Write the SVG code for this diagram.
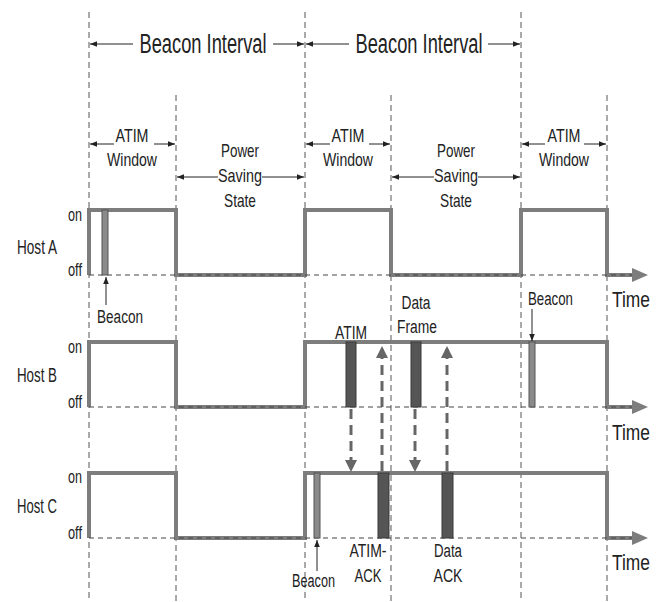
<svg xmlns="http://www.w3.org/2000/svg" width="660" height="602" viewBox="0 0 660 602">
<style>
text{font-family:"Liberation Sans",Arial,sans-serif;fill:#222}
.vd{stroke:#555;stroke-width:1;stroke-dasharray:6,4;fill:none}
.hd{stroke:#444;stroke-width:1;stroke-dasharray:5,4;fill:none}
.dim{stroke:#222;stroke-width:1;fill:none}
.sig{stroke:#7d7d7d;stroke-width:4;fill:none;stroke-linejoin:miter}
.thin{stroke:#222;stroke-width:1;fill:none}
.bcn{fill:#8a8a8a;stroke:#555;stroke-width:1}
.frm{fill:#555;stroke:#3a3a3a;stroke-width:1}
.da{stroke:#666;stroke-width:3;stroke-dasharray:10,6;fill:none}
.tri{fill:#7d7d7d}
.big{font-size:27px}
.mid{font-size:19px}
.hl{font-size:20px}
.oo{font-size:19px}
.sm{font-size:18px}
.tm{font-size:22px}
</style>
<defs>
<marker id="ah" viewBox="0 0 10 10" refX="10" refY="5" markerWidth="7" markerHeight="7" orient="auto-start-reverse" markerUnits="userSpaceOnUse"><path d="M0,1 L10,5 L0,9 z" fill="#222"/></marker>
<marker id="ad" viewBox="0 0 10 10" refX="10" refY="5" markerWidth="12" markerHeight="12" orient="auto" markerUnits="userSpaceOnUse"><path d="M0,0 L10,5 L0,10 z" fill="#666"/></marker>
</defs>

<g id="gridlines">
<line class="vd" x1="89" y1="12" x2="89" y2="602"/>
<line class="vd" x1="305" y1="12" x2="305" y2="602"/>
<line class="vd" x1="521" y1="12" x2="521" y2="602"/>
<line class="vd" x1="176" y1="95" x2="176" y2="602"/>
<line class="vd" x1="391" y1="95" x2="391" y2="602"/>
<line class="vd" x1="607" y1="95" x2="607" y2="602"/>
</g>

<g id="intervals">
<line class="dim" x1="133" y1="44" x2="90" y2="44" marker-end="url(#ah)"/>
<line class="dim" x1="273" y1="44" x2="304" y2="44" marker-end="url(#ah)"/>
<text class="big" x="203" y="53" text-anchor="middle" textLength="127" lengthAdjust="spacingAndGlyphs">Beacon Interval</text>
<line class="dim" x1="349" y1="44" x2="306" y2="44" marker-end="url(#ah)"/>
<line class="dim" x1="488" y1="44" x2="520" y2="44" marker-end="url(#ah)"/>
<text class="big" x="419" y="53" text-anchor="middle" textLength="127" lengthAdjust="spacingAndGlyphs">Beacon Interval</text>
</g>

<g id="windows">
<line class="dim" x1="114" y1="144" x2="90" y2="144" marker-end="url(#ah)"/>
<line class="dim" x1="154" y1="144" x2="175" y2="144" marker-end="url(#ah)"/>
<text class="mid" x="132" y="142" text-anchor="middle" textLength="33" lengthAdjust="spacingAndGlyphs">ATIM</text>
<text class="mid" x="132" y="166" text-anchor="middle" textLength="50" lengthAdjust="spacingAndGlyphs">Window</text>

<line class="dim" x1="330" y1="144" x2="306" y2="144" marker-end="url(#ah)"/>
<line class="dim" x1="369" y1="144" x2="390" y2="144" marker-end="url(#ah)"/>
<text class="mid" x="348" y="142" text-anchor="middle" textLength="33" lengthAdjust="spacingAndGlyphs">ATIM</text>
<text class="mid" x="348" y="166" text-anchor="middle" textLength="50" lengthAdjust="spacingAndGlyphs">Window</text>

<line class="dim" x1="545" y1="144" x2="522" y2="144" marker-end="url(#ah)"/>
<line class="dim" x1="584" y1="144" x2="606" y2="144" marker-end="url(#ah)"/>
<text class="mid" x="564" y="142" text-anchor="middle" textLength="33" lengthAdjust="spacingAndGlyphs">ATIM</text>
<text class="mid" x="564" y="166" text-anchor="middle" textLength="50" lengthAdjust="spacingAndGlyphs">Window</text>

<line class="dim" x1="218" y1="177" x2="177" y2="177" marker-end="url(#ah)"/>
<line class="dim" x1="262" y1="177" x2="304" y2="177" marker-end="url(#ah)"/>
<text class="mid" x="240" y="157" text-anchor="middle" textLength="38" lengthAdjust="spacingAndGlyphs">Power</text>
<text class="mid" x="240" y="182" text-anchor="middle" textLength="44" lengthAdjust="spacingAndGlyphs">Saving</text>
<text class="mid" x="240" y="207" text-anchor="middle" textLength="32" lengthAdjust="spacingAndGlyphs">State</text>

<line class="dim" x1="434" y1="177" x2="392" y2="177" marker-end="url(#ah)"/>
<line class="dim" x1="478" y1="177" x2="520" y2="177" marker-end="url(#ah)"/>
<text class="mid" x="456" y="157" text-anchor="middle" textLength="38" lengthAdjust="spacingAndGlyphs">Power</text>
<text class="mid" x="456" y="182" text-anchor="middle" textLength="44" lengthAdjust="spacingAndGlyphs">Saving</text>
<text class="mid" x="456" y="207" text-anchor="middle" textLength="32" lengthAdjust="spacingAndGlyphs">State</text>
</g>

<g id="hostA">
<text class="hl" x="17" y="254" textLength="40" lengthAdjust="spacingAndGlyphs">Host A</text>
<text class="oo" x="68" y="221" textLength="14" lengthAdjust="spacingAndGlyphs">on</text>
<text class="oo" x="68" y="276" textLength="14" lengthAdjust="spacingAndGlyphs">off</text>
<path class="sig" d="M89,275 V210 H176 V275 H305 V210 H391 V275 H521 V210 H607 V275 H634"/>
<polygon class="tri" points="632,268 648,275 632,282"/>
<line class="hd" x1="89" y1="275" x2="632" y2="275"/>
<rect class="bcn" x="102" y="210" width="6" height="65"/>
<text class="tm" x="612" y="307" textLength="38" lengthAdjust="spacingAndGlyphs">Time</text>
</g>

<g id="hostB">
<text class="hl" x="17" y="382" textLength="40" lengthAdjust="spacingAndGlyphs">Host B</text>
<text class="oo" x="68" y="353" textLength="14" lengthAdjust="spacingAndGlyphs">on</text>
<text class="oo" x="68" y="408" textLength="14" lengthAdjust="spacingAndGlyphs">off</text>
<path class="sig" d="M89,407 V342 H176 V407 H305 V342 H607 V407 H634"/>
<polygon class="tri" points="632,400 648,407 632,414"/>
<line class="hd" x1="89" y1="407" x2="632" y2="407"/>
<rect class="frm" x="346" y="342" width="10" height="65"/>
<rect class="frm" x="411" y="342" width="10" height="65"/>
<rect class="bcn" x="529" y="342" width="6" height="65"/>
<text class="sm" x="351" y="339" text-anchor="middle" textLength="32" lengthAdjust="spacingAndGlyphs">ATIM</text>
<text class="sm" x="416" y="309" text-anchor="middle" textLength="29" lengthAdjust="spacingAndGlyphs">Data</text>
<text class="sm" x="417" y="333" text-anchor="middle" textLength="40" lengthAdjust="spacingAndGlyphs">Frame</text>
<text class="tm" x="612" y="440" textLength="38" lengthAdjust="spacingAndGlyphs">Time</text>
</g>

<g id="hostC">
<text class="hl" x="17" y="513" textLength="40" lengthAdjust="spacingAndGlyphs">Host C</text>
<text class="oo" x="68" y="483" textLength="14" lengthAdjust="spacingAndGlyphs">on</text>
<text class="oo" x="68" y="539" textLength="14" lengthAdjust="spacingAndGlyphs">off</text>
<path class="sig" d="M89,538 V473 H176 V538 H305 V473 H607 V538 H634"/>
<polygon class="tri" points="632,531 648,538 632,545"/>
<line class="hd" x1="89" y1="538" x2="632" y2="538"/>
<rect class="bcn" x="314" y="473" width="6" height="65"/>
<rect class="frm" x="378" y="473" width="11" height="65"/>
<rect class="frm" x="442" y="473" width="11" height="65"/>
<text class="sm" x="368" y="557" text-anchor="middle" textLength="37" lengthAdjust="spacingAndGlyphs">ATIM-</text>
<text class="sm" x="368" y="582" text-anchor="middle" textLength="27" lengthAdjust="spacingAndGlyphs">ACK</text>
<text class="sm" x="448" y="557" text-anchor="middle" textLength="28" lengthAdjust="spacingAndGlyphs">Data</text>
<text class="sm" x="448" y="582" text-anchor="middle" textLength="29" lengthAdjust="spacingAndGlyphs">ACK</text>
<text class="tm" x="612" y="570" textLength="38" lengthAdjust="spacingAndGlyphs">Time</text>
</g>

<g id="beaconLabels">
<text class="sm" x="97" y="323" textLength="46" lengthAdjust="spacingAndGlyphs">Beacon</text>
<text class="sm" x="528" y="305" textLength="45" lengthAdjust="spacingAndGlyphs">Beacon</text>
<text class="sm" x="292" y="587" textLength="43" lengthAdjust="spacingAndGlyphs">Beacon</text>
</g>

<g id="connectors">
<line class="thin" x1="106" y1="305" x2="106" y2="277" marker-end="url(#ah)"/>
<line class="thin" x1="532" y1="309" x2="532" y2="341" marker-end="url(#ah)"/>
<line class="thin" x1="317" y1="571" x2="317" y2="540" marker-end="url(#ah)"/>
<line class="da" x1="351" y1="409" x2="351" y2="472" marker-end="url(#ad)"/>
<line class="da" x1="382" y1="471" x2="382" y2="346" marker-end="url(#ad)"/>
<line class="da" x1="415" y1="409" x2="415" y2="472" marker-end="url(#ad)"/>
<line class="da" x1="447" y1="471" x2="447" y2="346" marker-end="url(#ad)"/>
</g>
</svg>
